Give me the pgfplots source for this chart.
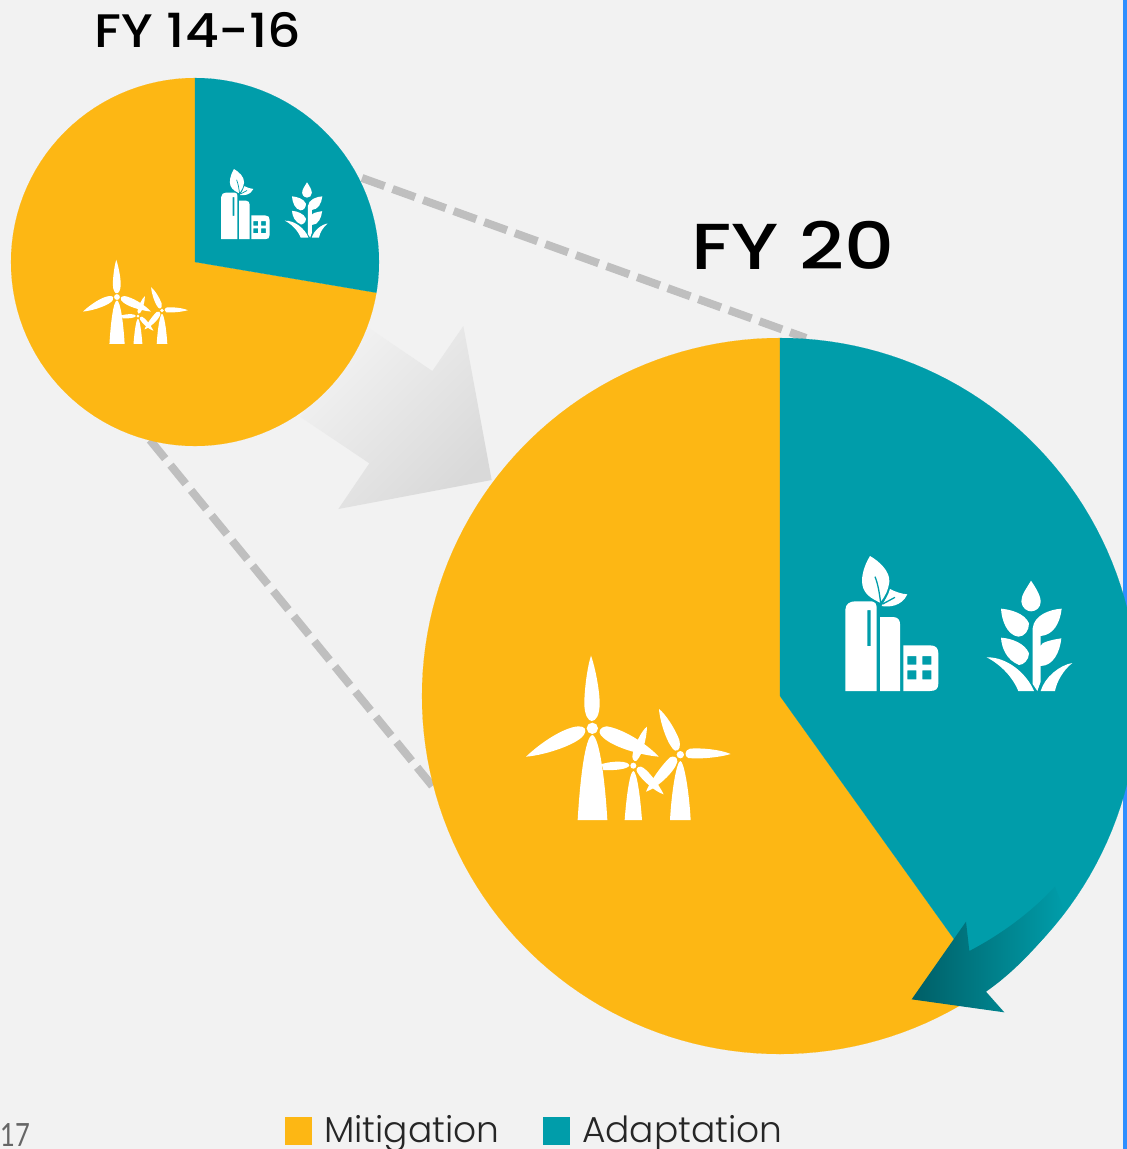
\documentclass[border=0pt]{standalone}
\usepackage{fontspec}
\usepackage{graphicx}
\setmainfont{Poppins}
\newfontfamily\titlef{Poppins Medium}
\newfontfamily\lightf{Poppins Light}
\newfontfamily\numf{Lato}
\usepackage{pgfplots}
\pgfplotsset{compat=1.18}
\usepgfplotslibrary{polar}
\definecolor{mitig}{HTML}{FDB714}
\definecolor{adapt}{HTML}{009DAA}
\definecolor{bgc}{HTML}{F2F2F2}
\definecolor{dashc}{HTML}{BFBFBF}
\definecolor{stripc}{HTML}{2E8FFF}
\newcommand{\turbines}{%
 \fill[white] (233,540) .. controls (240,420) and (255,290) .. (277,285) .. controls (298,290) and (315,420) .. (322,540) -- cycle;
 \fill[white] (305,372) .. controls (340,362) and (385,362) .. (388,376) .. controls (385,388) and (340,392) .. (310,390) -- cycle;
 \fill[white] (277,265) circle[radius=17];
 \fill[white] (273,47) .. controls (262,80) and (253,150) .. (253,190) .. controls (253,225) and (265,243) .. (275,243) .. controls (288,243) and (299,225) .. (299,190) .. controls (299,150) and (285,80) .. (273,47) -- cycle;
 \fill[white] (78,350) .. controls (120,310) and (190,262) .. (235,259) .. controls (255,258) and (260,270) .. (253,282) .. controls (240,310) and (140,345) .. (78,350) -- cycle;
 \fill[white] (476,350) .. controls (440,310) and (365,265) .. (320,259) .. controls (298,262) and (295,275) .. (302,285) .. controls (330,320) and (420,345) .. (476,350) -- cycle;
 \fill[white] (400,377) circle[radius=9];
 \fill[white] (374,540) .. controls (380,460) and (390,395) .. (400,393) .. controls (410,395) and (420,460) .. (426,540) -- cycle;
 \fill[white] (441,260) .. controls (425,270) and (398,325) .. (397,350) .. controls (397,362) and (408,368) .. (413,358) .. controls (425,345) and (440,300) .. (441,260) -- cycle;
 \fill[white] (491,463) .. controls (475,430) and (440,385) .. (423,380) .. controls (410,378) and (407,390) .. (412,397) .. controls (425,420) and (465,455) .. (491,463) -- cycle;
 \fill[white] (541,344) circle[radius=11];
 \fill[white] (510,540) .. controls (515,450) and (530,365) .. (541,363) .. controls (552,365) and (567,450) .. (572,540) -- cycle;
 \fill[white] (477,207) .. controls (480,250) and (505,320) .. (525,332) .. controls (540,335) and (542,315) .. (538,300) .. controls (525,265) and (495,220) .. (477,207) -- cycle;
 \fill[white] (692,342) .. controls (660,328) and (600,323) .. (570,326) .. controls (553,330) and (553,350) .. (565,354) .. controls (600,358) and (660,352) .. (692,342) -- cycle;
 \fill[white] (438,455) .. controls (470,445) and (525,395) .. (532,365) .. controls (533,350) and (520,347) .. (510,352) .. controls (485,375) and (450,425) .. (438,455) -- cycle;
}
\newcommand{\buildings}[1]{%
 \fill[white,even odd rule] (46,453) -- (46,210) .. controls (46,192) and (60,184) .. (75,184) -- (125,184) .. controls (136,186) and (140,192) .. (140,205) -- (140,453) -- cycle (112,210) -- (122,210) -- (122,318) -- (112,318) -- cycle;
 \fill[white] (150,453) -- (150,231) -- (190,231) .. controls (204,232) and (210,240) .. (210,252) -- (210,453) -- cycle;
 \fill[white,even odd rule] (220,453) -- (220,316) -- (300,316) .. controls (318,316) and (325,325) .. (325,340) -- (325,430) .. controls (325,446) and (318,453) .. (300,453) -- cycle
   (232,348) rectangle (259,374) (277,348) rectangle (304,374) (232,391) rectangle (259,418) (277,391) rectangle (304,418);
 \fill[white] (120,48) .. controls (100,80) and (90,120) .. (100,145) .. controls (110,170) and (135,180) .. (150,188) .. controls (165,170) and (175,150) .. (178,125) .. controls (180,95) and (150,65) .. (120,48) -- cycle;
 \draw[adapt,line width=#1] (135,110) .. controls (145,135) and (148,160) .. (152,188);
 \fill[white] (232,163) .. controls (215,162) and (195,155) .. (180,147) .. controls (175,165) and (165,180) .. (155,198) .. controls (175,202) and (215,200) .. (232,163) -- cycle;
 \draw[adapt,line width=#1] (158,192) -- (195,172);
}
\newcommand{\plant}{%
 \fill[white] (603,122) .. controls (590,145) and (573,165) .. (574,185) .. controls (576,205) and (592,214) .. (603,214) .. controls (618,214) and (632,203) .. (632,185) .. controls (632,165) and (615,140) .. (603,122) -- cycle;
 \fill[white] (513,206) .. controls (540,208) and (585,220) .. (597,250) .. controls (597,270) and (585,290) .. (565,290) .. controls (530,285) and (515,240) .. (513,206) -- cycle;
 \fill[white] (513,293) .. controls (545,295) and (585,310) .. (597,340) .. controls (597,360) and (580,375) .. (567,375) .. controls (530,360) and (515,325) .. (513,293) -- cycle;
 \fill[white] (695,206) .. controls (660,208) and (612,225) .. (608,265) -- (608,432) -- (622,453) -- (632,425) -- (632,378) .. controls (670,378) and (690,335) .. (694,295) .. controls (660,300) and (632,308) .. (632,318) -- (632,288) .. controls (670,285) and (690,250) .. (695,206) -- cycle;
 \fill[white] (470,352) .. controls (530,350) and (590,400) .. (612,453) -- (565,453) .. controls (550,415) and (515,375) .. (470,352) -- cycle;
 \fill[white] (727,369) .. controls (690,375) and (645,410) .. (632,453) -- (675,453) .. controls (680,425) and (700,390) .. (727,369) -- cycle;
}
\pgfplotsset{pie/.style={hide axis, scale only axis, anchor=center, xmin=0, xmax=360, ymin=0, ymax=1, clip=false}}
\begin{document}
\begin{tikzpicture}[x=1pt,y=-1pt]
\path[use as bounding box] (0,0) rectangle (1127,1149);
\clip (0,0) rectangle (1127,1149);
\fill[bgc] (0,0) rectangle (1127,1149);
% right strip
\fill[stripc] (1123,0) rectangle (1127,1149);
% dashed connectors
\draw[dashc,line width=8pt,dash pattern=on 24pt off 8.5pt] (362,178) -- (806,338);
\draw[dashc,line width=8pt,dash pattern=on 24pt off 8.5pt] (150,440) -- (434,788);
% grey arrow
\begin{scope}[shift={(290,310)},x=1/3*1pt,y=-1/3*1pt]
\shade[top color=bgc,bottom color=black!15,shading angle=45] (520,48) -- (605,510) -- (145,597) -- (238,460) -- (30,320) -- (238,55) -- (427,183) -- cycle;
\end{scope}
% FY 14-16
\begin{polaraxis}[pie, at={(195pt,-262pt)}, width=368pt, height=368pt]
\addplot[fill=mitig,draw=mitig,line width=0.1pt] coordinates {(0,0) (350.4,1) (348,1) (345,1) (342,1) (339,1) (336,1) (333,1) (330,1) (327,1) (324,1) (321,1) (318,1) (315,1) (312,1) (309,1) (306,1) (303,1) (300,1) (297,1) (294,1) (291,1) (288,1) (285,1) (282,1) (279,1) (276,1) (273,1) (270,1) (267,1) (264,1) (261,1) (258,1) (255,1) (252,1) (249,1) (246,1) (243,1) (240,1) (237,1) (234,1) (231,1) (228,1) (225,1) (222,1) (219,1) (216,1) (213,1) (210,1) (207,1) (204,1) (201,1) (198,1) (195,1) (192,1) (189,1) (186,1) (183,1) (180,1) (177,1) (174,1) (171,1) (168,1) (165,1) (162,1) (159,1) (156,1) (153,1) (150,1) (147,1) (144,1) (141,1) (138,1) (135,1) (132,1) (129,1) (126,1) (123,1) (120,1) (117,1) (114,1) (111,1) (108,1) (105,1) (102,1) (99,1) (96,1) (93,1) (90,1)} -- cycle;
\addplot[fill=adapt,draw=adapt,line width=0.1pt] coordinates {(0,0) (90,1) (87,1) (84,1) (81,1) (78,1) (75,1) (72,1) (69,1) (66,1) (63,1) (60,1) (57,1) (54,1) (51,1) (48,1) (45,1) (42,1) (39,1) (36,1) (33,1) (30,1) (27,1) (24,1) (21,1) (18,1) (15,1) (12,1) (9,1) (6,1) (3,1) (0,1) (357,1) (354,1) (351,1) (350.4,1)} -- cycle;
\end{polaraxis}
% FY 20
\begin{polaraxis}[pie, at={(780pt,-696pt)}, width=716pt, height=716pt]
\addplot[fill=mitig,draw=mitig,line width=0.1pt] coordinates {(0,0) (305.6,1) (304,1) (302,1) (300,1) (298,1) (296,1) (294,1) (292,1) (290,1) (288,1) (286,1) (284,1) (282,1) (280,1) (278,1) (276,1) (274,1) (272,1) (270,1) (268,1) (266,1) (264,1) (262,1) (260,1) (258,1) (256,1) (254,1) (252,1) (250,1) (248,1) (246,1) (244,1) (242,1) (240,1) (238,1) (236,1) (234,1) (232,1) (230,1) (228,1) (226,1) (224,1) (222,1) (220,1) (218,1) (216,1) (214,1) (212,1) (210,1) (208,1) (206,1) (204,1) (202,1) (200,1) (198,1) (196,1) (194,1) (192,1) (190,1) (188,1) (186,1) (184,1) (182,1) (180,1) (178,1) (176,1) (174,1) (172,1) (170,1) (168,1) (166,1) (164,1) (162,1) (160,1) (158,1) (156,1) (154,1) (152,1) (150,1) (148,1) (146,1) (144,1) (142,1) (140,1) (138,1) (136,1) (134,1) (132,1) (130,1) (128,1) (126,1) (124,1) (122,1) (120,1) (118,1) (116,1) (114,1) (112,1) (110,1) (108,1) (106,1) (104,1) (102,1) (100,1) (98,1) (96,1) (94,1) (92,1) (90,1)} -- cycle;
\addplot[fill=adapt,draw=adapt,line width=0.1pt] coordinates {(0,0) (90,1) (88,1) (86,1) (84,1) (82,1) (80,1) (78,1) (76,1) (74,1) (72,1) (70,1) (68,1) (66,1) (64,1) (62,1) (60,1) (58,1) (56,1) (54,1) (52,1) (50,1) (48,1) (46,1) (44,1) (42,1) (40,1) (38,1) (36,1) (34,1) (32,1) (30,1) (28,1) (26,1) (24,1) (22,1) (20,1) (18,1) (16,1) (14,1) (12,1) (10,1) (8,1) (6,1) (4,1) (2,1) (0,1) (358,1) (356,1) (354,1) (352,1) (350,1) (348,1) (346,1) (344,1) (342,1) (340,1) (338,1) (336,1) (334,1) (332,1) (330,1) (328,1) (326,1) (324,1) (322,1) (320,1) (318,1) (316,1) (314,1) (312,1) (310,1) (308,1) (306,1) (305.6,1)} -- cycle;
\end{polaraxis}
% big icons
\begin{scope}[shift={(500,640)},x=1/3*1pt,y=-1/3*1pt] \turbines \end{scope}
\begin{scope}[shift={(830,540)},x=1/3*1pt,y=-1/3*1pt] \buildings{1.3pt} \plant \end{scope}
% small icons
\begin{scope}[shift={(83-26*0.512,260-16*0.512)},x=0.512/3*1pt,y=-0.512/3*1pt] \turbines \end{scope}
\begin{scope}[shift={(221-15*0.52,169-16*0.52)},x=0.52/3*1pt,y=-0.52/3*1pt] \buildings{0.7pt} \end{scope}
\begin{scope}[shift={(285-157*0.5,182-40*0.5)},x=0.5/3*1pt,y=-0.5/3*1pt] \plant \end{scope}
% teal arrow
\begin{scope}[shift={(890,870)},x=1/3*1pt,y=-1/3*1pt]
\shade[left color=adapt!60!black,right color=adapt] (65,388) -- (228,155) -- (238,243) .. controls (330,195) and (420,130) .. (495,50) -- (524,126) .. controls (456,215) and (380,301) .. (288,365) -- (343,427) -- cycle;
\end{scope}
% titles
\node[anchor=base,inner sep=0pt,text=black] at (198,47) {\scalebox{1.11}[1]{\titlef\fontsize{47}{47}\selectfont FY 14-16}};
\node[anchor=base,inner sep=0pt,text=black] at (793,269) {\scalebox{1.2}[1]{\titlef\fontsize{65}{65}\selectfont FY 20}};
% legend
\fill[mitig] (285,1117) rectangle (312,1145);
\fill[adapt] (543,1117) rectangle (570,1145);
\node[anchor=base west,inner sep=0pt,font=\lightf\fontsize{36}{36}\selectfont,text=black!85] at (324,1142) {Mitigation};
\node[anchor=base west,inner sep=0pt,font=\lightf\fontsize{36}{36}\selectfont,text=black!85] at (582,1142) {Adaptation};
\node[anchor=base west,inner sep=0pt,text=black!60] at (0,1146) {\scalebox{0.8}[1]{\numf\fontsize{32}{32}\selectfont 17}};
\end{tikzpicture}
\end{document}
